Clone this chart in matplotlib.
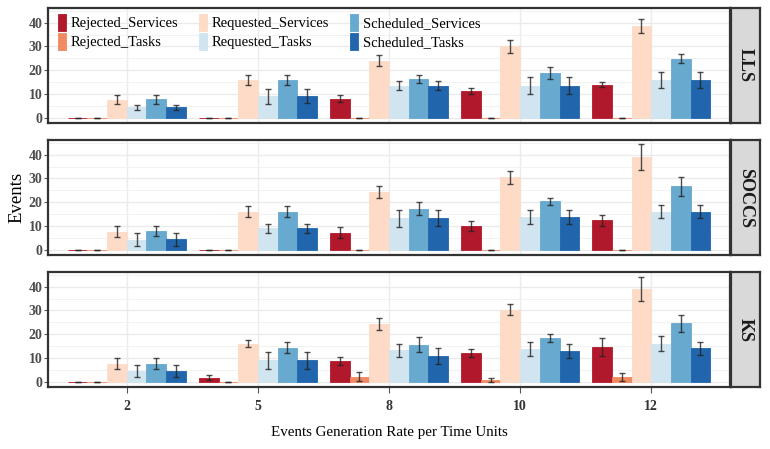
import matplotlib
matplotlib.use('Agg')
import matplotlib.pyplot as plt
import numpy as np

plt.rcParams['font.family'] = ['Liberation Serif', 'DejaVu Serif']

rates = ['2', '5', '8', '10', '12']
series = ['Rejected_Services', 'Rejected_Tasks', 'Requested_Services',
          'Requested_Tasks', 'Scheduled_Services', 'Scheduled_Tasks']
colors = ['#B2182B', '#EF8A62', '#FDDBC7', '#D1E5F0', '#67A9CF', '#2166AC']
panels = ['LLS', 'SOCCS', 'KS']

# mean values, one list per series (over rates 2,5,8,10,12)
lls_mean = [
    [0, 0, 7.9, 11.3, 13.9],
    [0, 0, 0, 0, 0],
    [7.6, 15.8, 24.0, 30.1, 38.6],
    [4.3, 8.9, 13.5, 13.5, 15.8],
    [7.7, 16.0, 16.3, 18.9, 24.9],
    [4.3, 9.1, 13.5, 13.5, 15.8],
]
lls_err = [
    [0, 0, 1.5, 1.3, 1.2],
    [0, 0, 0, 0, 0],
    [1.9, 2.2, 2.2, 2.8, 3.0],
    [1.2, 3.0, 1.9, 3.6, 3.3],
    [1.9, 2.1, 1.8, 2.5, 1.9],
    [1.2, 3.0, 1.9, 3.6, 3.3],
]
soccs_mean = [
    [0, 0, 7.0, 10.0, 12.3],
    [0, 0, 0, 0, 0],
    [7.6, 15.9, 24.4, 30.4, 39.2],
    [4.2, 8.9, 13.1, 13.7, 15.9],
    [7.7, 15.9, 17.3, 20.4, 26.6],
    [4.4, 9.0, 13.2, 13.7, 15.9],
]
soccs_err = [
    [0, 0, 2.3, 2.2, 2.3],
    [0, 0, 0, 0, 0],
    [2.2, 2.3, 2.5, 2.7, 5.5],
    [2.7, 1.9, 3.4, 2.9, 2.7],
    [2.1, 2.3, 2.8, 1.5, 3.9],
    [2.7, 1.9, 3.4, 2.9, 2.7],
]
ks_mean = [
    [0, 1.7, 8.6, 12.0, 14.6],
    [0, 0, 2.1, 0.8, 2.0],
    [7.6, 16.0, 24.3, 30.3, 39.0],
    [4.4, 8.9, 13.2, 13.7, 16.0],
    [7.6, 14.3, 15.6, 18.4, 24.5],
    [4.4, 8.9, 10.9, 12.9, 14.0],
]
ks_err = [
    [0, 1.1, 1.7, 1.8, 3.8],
    [0, 0, 1.8, 0.9, 1.6],
    [2.4, 1.6, 2.6, 2.3, 5.2],
    [2.5, 3.6, 2.7, 2.9, 3.1],
    [2.4, 2.2, 3.1, 1.8, 3.5],
    [2.5, 3.6, 3.3, 3.0, 2.7],
]

means = [lls_mean, soccs_mean, ks_mean]
errs = [lls_err, soccs_err, ks_err]

fig = plt.figure(figsize=(7.7, 4.49), dpi=100)
W, H = 770.0, 449.0
left, right = 48 / W, 730 / W
strip_l, strip_r = 731 / W, 760 / W
panel_px = [(8, 123), (140, 255), (272, 387)]

x = np.arange(1, len(rates) + 1)
bw = 0.15
grid_c = '#EBEBEB'

for p, (top_px, bot_px) in enumerate(panel_px):
    bottom = 1 - bot_px / H
    height = (bot_px - top_px) / H
    ax = fig.add_axes([left, bottom, right - left, height])
    for i, name in enumerate(series):
        xs = x + (i - 2.5) * bw
        ax.bar(xs, means[p][i], width=bw, color=colors[i], edgecolor=colors[i],
               linewidth=0.6, label=name, zorder=2)
        ax.errorbar(xs, means[p][i], yerr=errs[p][i], fmt='none',
                    ecolor='#222222', alpha=0.8, elinewidth=1, capsize=2.5,
                    capthick=1, zorder=3)
    ax.set_xlim(0.4, 5.6)
    ax.set_ylim(-2.3, 46.2)
    ax.set_yticks([0, 10, 20, 30, 40])
    ax.set_yticks([5, 15, 25, 35, 45], minor=True)
    ax.set_xticks(x)
    ax.grid(which='major', color=grid_c, linewidth=1.0, zorder=0)
    ax.grid(which='minor', axis='y', color='#F2F2F2', linewidth=0.7, zorder=0)
    ax.set_axisbelow(True)
    for s in ax.spines.values():
        s.set_color('#333333')
        s.set_linewidth(1.6)
    ax.tick_params(axis='y', which='major', length=3, color='#555555',
                   labelsize=10, labelcolor='#4D4D4D', pad=1)
    ax.tick_params(axis='y', which='minor', length=0)
    for lab in ax.get_yticklabels():
        lab.set_fontweight('bold')
    if p < 2:
        ax.tick_params(axis='x', length=0, labelbottom=False)
    else:
        ax.set_xticklabels(rates)
        ax.tick_params(axis='x', length=4, color='#555555', labelsize=10,
                       labelcolor='#333333', pad=5)
        for lab in ax.get_xticklabels():
            lab.set_fontweight('bold')
        ax.set_xlabel('Events Generation Rate per Time Units', fontsize=10.8,
                      labelpad=10)
    if p == 1:
        ax.set_ylabel('Events', fontsize=13.5, labelpad=2)
    if p == 0:
        ax.legend(loc='upper left', ncol=3, frameon=False, fontsize=10.5,
                  handlelength=0.5, handleheight=1.4, handletextpad=0.35,
                  columnspacing=1.45, labelspacing=0.15,
                  bbox_to_anchor=(0.0, 1.035), borderaxespad=0.3)

    sax = fig.add_axes([strip_l, bottom, strip_r - strip_l, height])
    sax.set_facecolor('#D9D9D9')
    sax.set_xticks([])
    sax.set_yticks([])
    for s in sax.spines.values():
        s.set_color('#333333')
        s.set_linewidth(1.6)
    sax.text(0.5, 0.5, panels[p], rotation=-90, ha='center', va='center',
             fontsize=13, fontweight='bold', color='#1A1A1A',
             transform=sax.transAxes)

fig.savefig('out.png', dpi=100)
